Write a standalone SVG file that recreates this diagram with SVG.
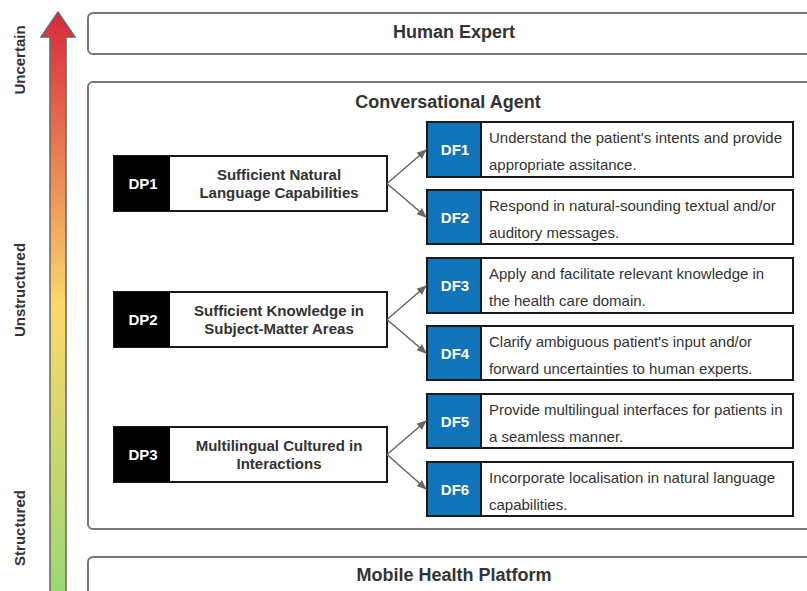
<svg xmlns="http://www.w3.org/2000/svg" width="807" height="591" viewBox="0 0 807 591">
<defs>
<linearGradient id="grad" x1="0" y1="0" x2="0" y2="1">
<stop offset="0" stop-color="#d7293b"/>
<stop offset="0.5" stop-color="#fbd86a"/>
<stop offset="1" stop-color="#9ad774"/>
</linearGradient>
<marker id="ah" markerWidth="10" markerHeight="10" refX="9" refY="5" orient="auto" markerUnits="userSpaceOnUse">
<path d="M0,1 L10,5 L0,9 Z" fill="#666"/>
</marker>
<style>
.frame{fill:#fff;stroke:#777;stroke-width:2}
.title{font-family:"Liberation Sans",Arial,sans-serif;font-size:18px;font-weight:bold;fill:#333;text-anchor:middle}
.axis{font-family:"Liberation Sans",Arial,sans-serif;font-size:15px;font-weight:bold;fill:#333;text-anchor:middle}
.box{fill:#fff;stroke:#1a1a1a;stroke-width:2}
.dpk{fill:#000}
.dfk{fill:#1173b8;stroke:#1a1a1a;stroke-width:2}
.tag{font-family:"Liberation Sans",Arial,sans-serif;font-size:15px;font-weight:bold;fill:#fff;text-anchor:middle}
.dpt{font-family:"Liberation Sans",Arial,sans-serif;font-size:15px;font-weight:bold;fill:#333;text-anchor:middle}
.dft{font-family:"Liberation Sans",Arial,sans-serif;font-size:15px;fill:#333}
.conn{fill:none;stroke:#666;stroke-width:1.5;marker-end:url(#ah)}
</style>
</defs>
<rect width="807" height="591" fill="#fff"/>
<g id="axis">
<path d="M50,600 L50,37 L41,37 L58,12 L75,37 L66,37 L66,600 Z" fill="url(#grad)" stroke="#666" stroke-width="1.5"/>
<text class="axis" transform="translate(25,60) rotate(-90)">Uncertain</text>
<text class="axis" transform="translate(25,290) rotate(-90)">Unstructured</text>
<text class="axis" transform="translate(25,528) rotate(-90)">Structured</text>
</g>
<g id="human-expert">
<rect class="frame" x="88" y="13" width="730" height="41" rx="5"/>
<text class="title" x="454" y="38">Human Expert</text>
</g>
<g id="conversational-agent">
<rect class="frame" x="88" y="82" width="730" height="447" rx="5"/>
<text class="title" x="448" y="108">Conversational Agent</text>
</g>
<g id="mobile-health-platform">
<rect class="frame" x="88" y="557" width="730" height="50" rx="5"/>
<text class="title" x="454" y="581">Mobile Health Platform</text>
</g>
<g id="DP1">
<rect class="box" x="114" y="156" width="273" height="55"/>
<rect class="dpk" x="114" y="156" width="56" height="55"/>
<text class="tag" x="143" y="189">DP1</text>
<text class="dpt" x="279" y="180">Sufficient Natural</text>
<text class="dpt" x="279" y="198">Language Capabilities</text>
</g>
<g id="DP2">
<rect class="box" x="114" y="292" width="273" height="55"/>
<rect class="dpk" x="114" y="292" width="56" height="55"/>
<text class="tag" x="143" y="325">DP2</text>
<text class="dpt" x="279" y="316">Sufficient Knowledge in</text>
<text class="dpt" x="279" y="334">Subject-Matter Areas</text>
</g>
<g id="DP3">
<rect class="box" x="114" y="427" width="273" height="55"/>
<rect class="dpk" x="114" y="427" width="56" height="55"/>
<text class="tag" x="143" y="460">DP3</text>
<text class="dpt" x="279" y="451">Multilingual Cultured in</text>
<text class="dpt" x="279" y="469">Interactions</text>
</g>
<g id="DF1">
<rect class="box" x="427" y="122" width="366" height="55"/>
<rect class="dfk" x="427" y="122" width="54" height="55"/>
<text class="tag" x="455" y="155">DF1</text>
<text class="dft" x="489" y="143">Understand the patient's intents and provide</text>
<text class="dft" x="489" y="170">appropriate assitance.</text>
</g>
<g id="DF2">
<rect class="box" x="427" y="190" width="366" height="54"/>
<rect class="dfk" x="427" y="190" width="54" height="54"/>
<text class="tag" x="455" y="223">DF2</text>
<text class="dft" x="489" y="211">Respond in natural-sounding textual and/or</text>
<text class="dft" x="489" y="238">auditory messages.</text>
</g>
<g id="DF3">
<rect class="box" x="427" y="258" width="366" height="55"/>
<rect class="dfk" x="427" y="258" width="54" height="55"/>
<text class="tag" x="455" y="291">DF3</text>
<text class="dft" x="489" y="279">Apply and facilitate relevant knowledge in</text>
<text class="dft" x="489" y="306">the health care domain.</text>
</g>
<g id="DF4">
<rect class="box" x="427" y="326" width="366" height="54"/>
<rect class="dfk" x="427" y="326" width="54" height="54"/>
<text class="tag" x="455" y="359">DF4</text>
<text class="dft" x="489" y="347">Clarify ambiguous patient's input and/or</text>
<text class="dft" x="489" y="374">forward uncertainties to human experts.</text>
</g>
<g id="DF5">
<rect class="box" x="427" y="394" width="366" height="54"/>
<rect class="dfk" x="427" y="394" width="54" height="54"/>
<text class="tag" x="455" y="427">DF5</text>
<text class="dft" x="489" y="415">Provide multilingual interfaces for patients in</text>
<text class="dft" x="489" y="442">a seamless manner.</text>
</g>
<g id="DF6">
<rect class="box" x="427" y="462" width="366" height="54"/>
<rect class="dfk" x="427" y="462" width="54" height="54"/>
<text class="tag" x="455" y="495">DF6</text>
<text class="dft" x="489" y="483">Incorporate localisation in natural language</text>
<text class="dft" x="489" y="510">capabilities.</text>
</g>
<g id="connectors">
<path class="conn" d="M387,183.5 L426,150"/>
<path class="conn" d="M387,183.5 L426,217"/>
<path class="conn" d="M387,319.5 L426,286"/>
<path class="conn" d="M387,319.5 L426,353"/>
<path class="conn" d="M387,454.5 L426,421"/>
<path class="conn" d="M387,454.5 L426,489"/>
</g>
</svg>
